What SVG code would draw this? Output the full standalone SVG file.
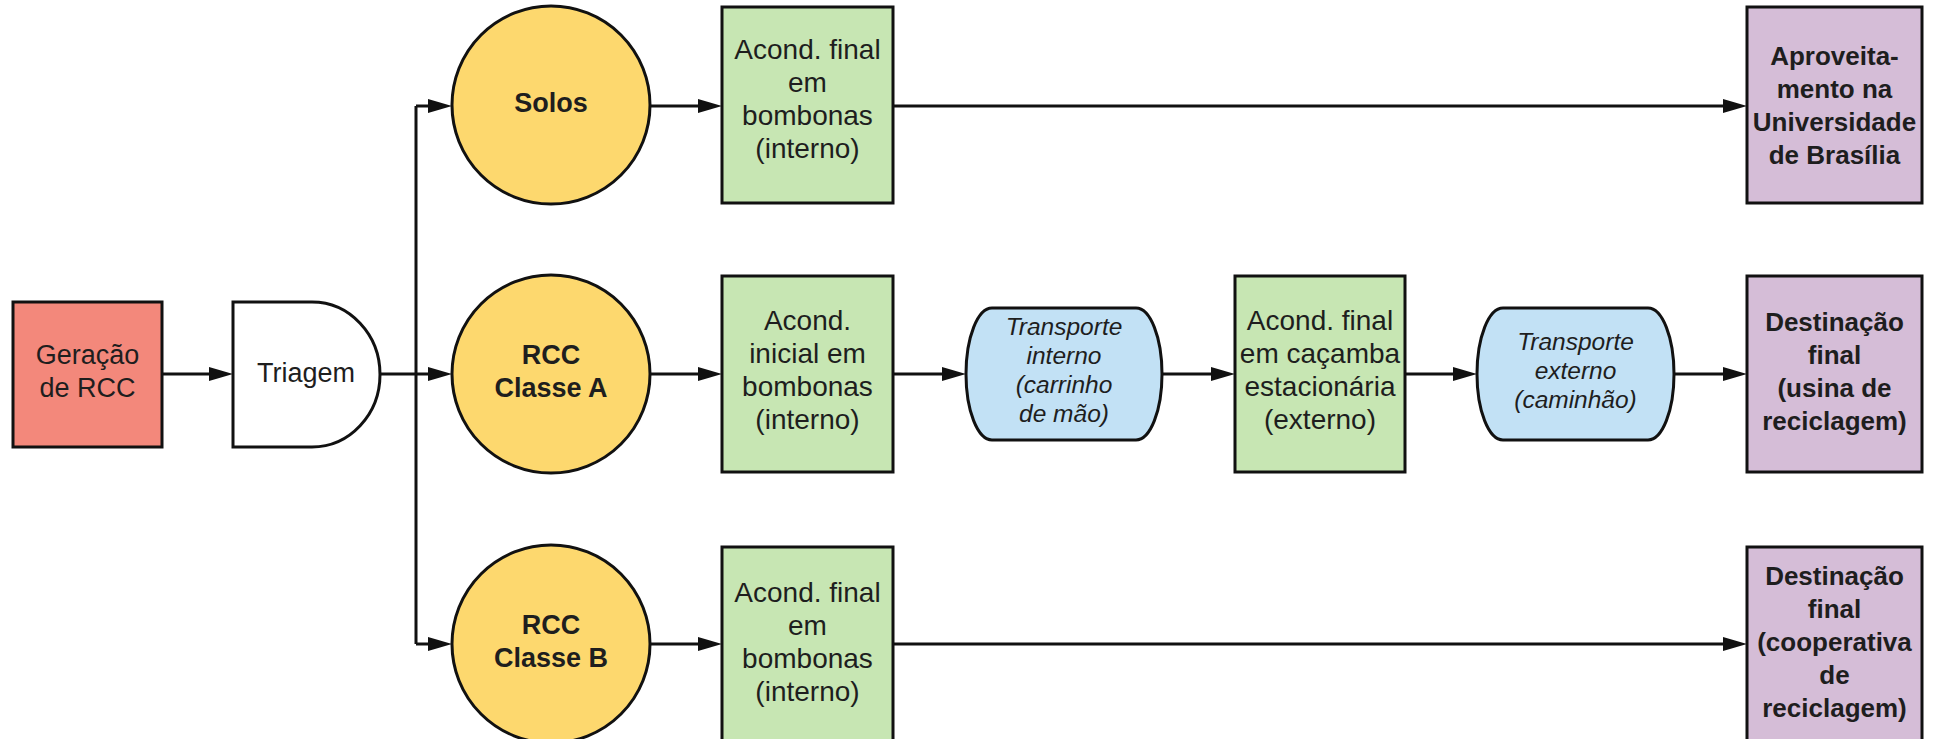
<svg xmlns="http://www.w3.org/2000/svg" width="1948" height="739" viewBox="0 0 1948 739">
  <style>
    .shape { stroke: #111; stroke-width: 3; }
    .gen { fill: #F3887B; }
    .sort { fill: #FFFFFF; }
    .class { fill: #FDD86E; }
    .store { fill: #C7E6B3; }
    .move { fill: #C2E1F5; }
    .dest { fill: #D5BDD7; }
    .edge { fill: none; stroke: #111; stroke-width: 3; }
    text { font-family: "Liberation Sans", Arial, sans-serif; fill: #1E1E1E; text-anchor: middle; }
    .reg { font-size: 27px; }
    .lbl { font-size: 28px; }
    .bold { font-size: 27px; font-weight: bold; }
    .dbold { font-size: 26px; font-weight: bold; }
    .ital { font-size: 24.5px; font-style: italic; }
  </style>
  <defs>
    <marker id="arrow" viewBox="0 0 24 14" refX="12" refY="7" markerWidth="24" markerHeight="14" markerUnits="userSpaceOnUse" orient="auto">
      <path d="M0,0 L24,7 L0,14 Z" fill="#111"/>
    </marker>
  </defs>
  <rect width="1948" height="739" fill="#FFFFFF"/>

  <!-- connectors -->
  <g id="connectors">
    <path class="edge" d="M162,374 H221" marker-end="url(#arrow)"/>
    <path class="edge" d="M380,374 H440" marker-end="url(#arrow)"/>
    <path class="edge" d="M416,106 V644"/>
    <path class="edge" d="M416,106 H440" marker-end="url(#arrow)"/>
    <path class="edge" d="M416,644 H440" marker-end="url(#arrow)"/>
    <path class="edge" d="M650,106 H710" marker-end="url(#arrow)"/>
    <path class="edge" d="M650,374 H710" marker-end="url(#arrow)"/>
    <path class="edge" d="M650,644 H710" marker-end="url(#arrow)"/>
    <path class="edge" d="M893,106 H1735" marker-end="url(#arrow)"/>
    <path class="edge" d="M893,374 H954" marker-end="url(#arrow)"/>
    <path class="edge" d="M1162,374 H1223" marker-end="url(#arrow)"/>
    <path class="edge" d="M1405,374 H1465" marker-end="url(#arrow)"/>
    <path class="edge" d="M1674,374 H1735" marker-end="url(#arrow)"/>
    <path class="edge" d="M893,644 H1735" marker-end="url(#arrow)"/>
  </g>

  <!-- source -->
  <g id="geracao">
    <rect class="shape gen" x="13" y="302" width="149" height="145"/>
    <text class="reg"><tspan x="87.5" y="364">Geração</tspan><tspan x="87.5" y="397">de RCC</tspan></text>
  </g>

  <g id="triagem">
    <path class="shape sort" d="M233,302 H312 A68,72.5 0 0 1 312,447 H233 Z"/>
    <text class="reg" x="306" y="382">Triagem</text>
  </g>

  <!-- waste classes -->
  <g id="solos">
    <circle class="shape class" cx="551" cy="105" r="99"/>
    <text class="bold" x="551" y="112">Solos</text>
  </g>

  <g id="classe-a">
    <circle class="shape class" cx="551" cy="374" r="99"/>
    <text class="bold"><tspan x="551" y="363.5">RCC</tspan><tspan x="551" y="396.5">Classe A</tspan></text>
  </g>

  <g id="classe-b">
    <circle class="shape class" cx="551" cy="644" r="99"/>
    <text class="bold"><tspan x="551" y="633.5">RCC</tspan><tspan x="551" y="666.5">Classe B</tspan></text>
  </g>

  <!-- storage -->
  <g id="acond-solos">
    <rect class="shape store" x="722" y="7" width="171" height="196"/>
    <text class="lbl"><tspan x="807.5" y="58.5">Acond. final</tspan><tspan x="807.5" y="91.5">em</tspan><tspan x="807.5" y="124.5">bombonas</tspan><tspan x="807.5" y="157.5">(interno)</tspan></text>
  </g>

  <g id="acond-inicial-a">
    <rect class="shape store" x="722" y="276" width="171" height="196"/>
    <text class="lbl"><tspan x="807.5" y="329.5">Acond.</tspan><tspan x="807.5" y="362.5">inicial em</tspan><tspan x="807.5" y="395.5">bombonas</tspan><tspan x="807.5" y="428.5">(interno)</tspan></text>
  </g>

  <g id="acond-b">
    <rect class="shape store" x="722" y="547" width="171" height="196"/>
    <text class="lbl"><tspan x="807.5" y="601.5">Acond. final</tspan><tspan x="807.5" y="634.5">em</tspan><tspan x="807.5" y="667.5">bombonas</tspan><tspan x="807.5" y="700.5">(interno)</tspan></text>
  </g>

  <!-- transport and external storage -->
  <g id="transporte-interno">
    <path class="shape move" d="M992,308 H1136 A26,66 0 0 1 1136,440 H992 A26,66 0 0 1 992,308 Z"/>
    <text class="ital"><tspan x="1064" y="335">Transporte</tspan><tspan x="1064" y="364">interno</tspan><tspan x="1064" y="393">(carrinho</tspan><tspan x="1064" y="422">de mão)</tspan></text>
  </g>

  <g id="acond-cacamba">
    <rect class="shape store" x="1235" y="276" width="170" height="196"/>
    <text class="lbl"><tspan x="1320" y="329.5">Acond. final</tspan><tspan x="1320" y="362.5">em caçamba</tspan><tspan x="1320" y="395.5">estacionária</tspan><tspan x="1320" y="428.5">(externo)</tspan></text>
  </g>

  <g id="transporte-externo">
    <path class="shape move" d="M1503,308 H1648 A26,66 0 0 1 1648,440 H1503 A26,66 0 0 1 1503,308 Z"/>
    <text class="ital"><tspan x="1575.5" y="350">Transporte</tspan><tspan x="1575.5" y="379">externo</tspan><tspan x="1575.5" y="408">(caminhão)</tspan></text>
  </g>

  <!-- destinations -->
  <g id="aproveitamento">
    <rect class="shape dest" x="1747" y="7" width="175" height="196"/>
    <text class="dbold"><tspan x="1834.5" y="65">Aproveita-</tspan><tspan x="1834.5" y="98">mento na</tspan><tspan x="1834.5" y="131">Universidade</tspan><tspan x="1834.5" y="164">de Brasília</tspan></text>
  </g>

  <g id="destinacao-usina">
    <rect class="shape dest" x="1747" y="276" width="175" height="196"/>
    <text class="dbold"><tspan x="1834.5" y="330.5">Destinação</tspan><tspan x="1834.5" y="363.5">final</tspan><tspan x="1834.5" y="396.5">(usina de</tspan><tspan x="1834.5" y="429.5">reciclagem)</tspan></text>
  </g>

  <g id="destinacao-cooperativa">
    <rect class="shape dest" x="1747" y="547" width="175" height="196"/>
    <text class="dbold"><tspan x="1834.5" y="585">Destinação</tspan><tspan x="1834.5" y="618">final</tspan><tspan x="1834.5" y="651">(cooperativa</tspan><tspan x="1834.5" y="684">de</tspan><tspan x="1834.5" y="717">reciclagem)</tspan></text>
  </g>
</svg>
